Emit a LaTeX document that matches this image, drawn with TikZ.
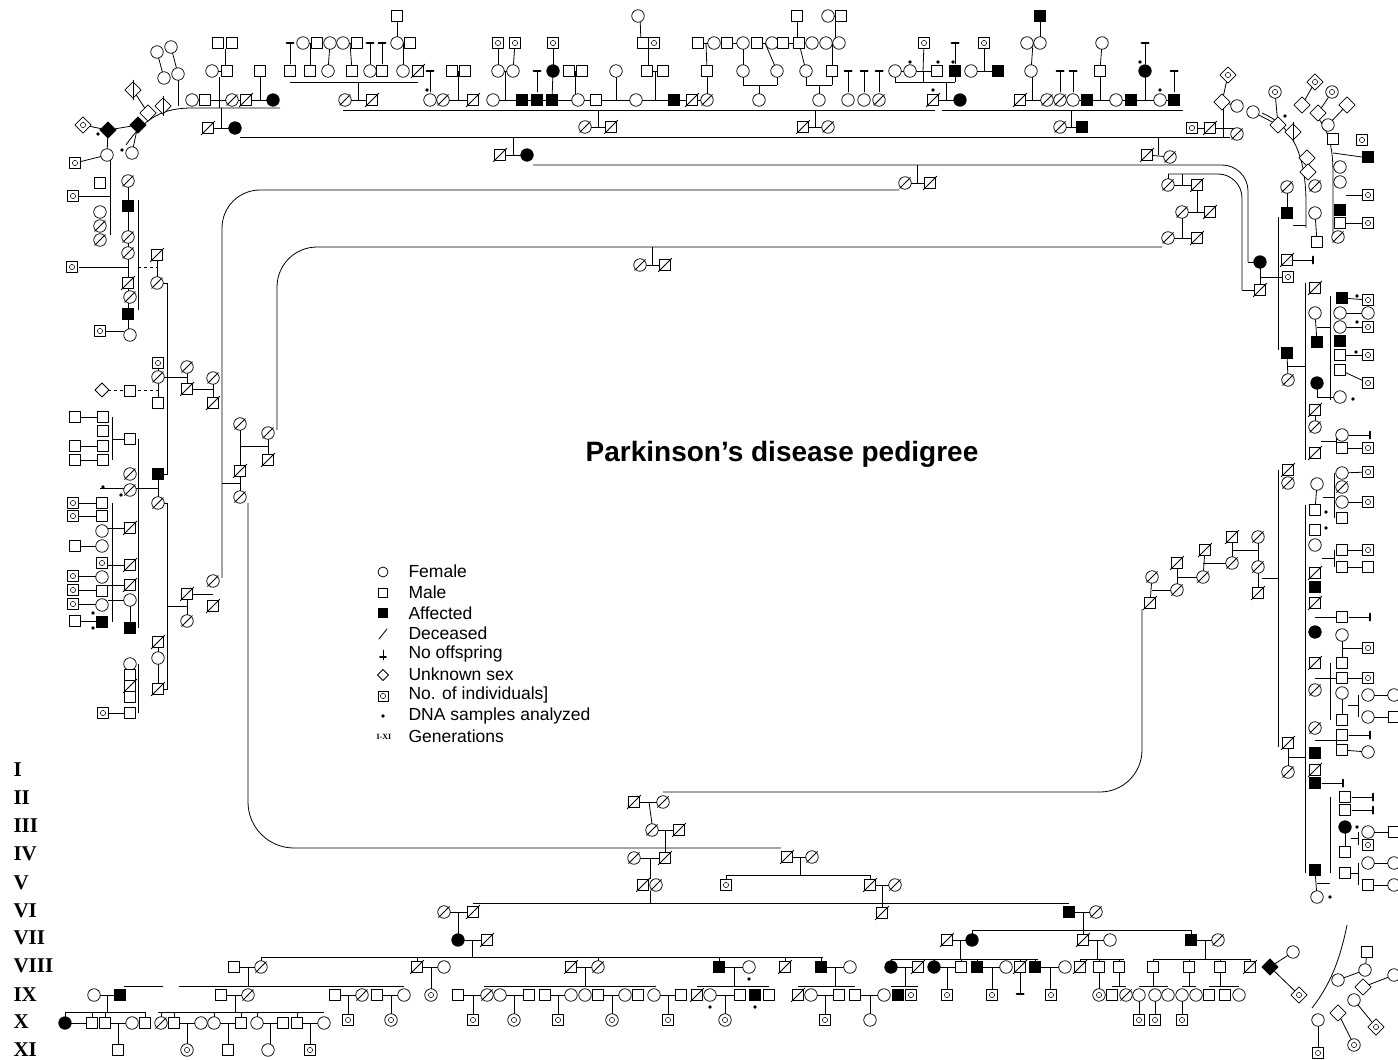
\documentclass[tikz,border=0pt]{standalone}
\usepackage{fontspec}
\setmainfont{Liberation Serif}
\setsansfont{Liberation Sans}
\usetikzlibrary{shapes.geometric,backgrounds}
\begin{document}
\begin{tikzpicture}[x=1pt,y=-1pt,line cap=round,line join=round]
\useasboundingbox (0,0) rectangle (1398,1060);
\tikzset{ind/.style={draw=black,line width=0.75pt,inner sep=0pt,outer sep=0pt,fill=white},
  F/.style={ind,circle,minimum size=12.5pt},
  M/.style={ind,rectangle,minimum size=11.5pt},
  U/.style={ind,diamond,minimum size=14pt},
  dead/.style={append after command={(\tikzlastnode.south west) edge[draw=black,line width=0.75pt,shorten <=-1.5pt,shorten >=-1.5pt] (\tikzlastnode.north east)}},
  numb/.style={path picture={\draw[line width=0.5pt] (path picture bounding box.center) circle[radius=2.6pt];}},
  FA/.style={F,fill=black},MA/.style={M,fill=black},
  FD/.style={F,dead},MD/.style={M,dead},
  FN/.style={F,numb},MN/.style={M,numb},
  MR/.style={M,rotate=45},MDR/.style={MD,rotate=45},MAR/.style={MA,rotate=45},MNR/.style={MN,rotate=45},
  kin/.style={draw=black,line width=0.8pt},
  noff/.pic={\draw[kin] (0,0) -- (0,21); \draw[line width=2pt] (-3.5,0) -- (3.5,0);},
  noffu/.pic={\draw[kin] (0,0) -- (0,-21); \draw[line width=2pt] (-3.5,0) -- (3.5,0);},
  noffh/.pic={\draw[kin] (0,0) -- (-21,0); \draw[line width=2pt] (0,-3.5) -- (0,3.5);},
  gen/.style={anchor=west,font=\bfseries\fontsize{21}{21}\selectfont},
  keytext/.style={anchor=west,font=\sffamily\fontsize{17.5}{18}\selectfont}}
\foreach \x/\y/\s in {157/52/F,171/47/F,164/78/F,178/74/F,133/90/MDR,148/113/MR,163/106/MDR,
  192/100/F,205/100/M,232/100/FD,246/100/MD,273/100/FA,218/43/M,232/43/M,212/71/F,227/71/M,260/71/M,
  208/128/MD,235/128/FA,83/125/MNR,108/130/MAR,138/125/MAR,132/153/F,107/155/F,75/163/MN,
  345/100/FD,372/100/MD,430/100/F,443/100/FD,473/100/MD,493/100/F,522/100/MA,537/100/MA,552/100/MA,578/100/F,596/100/M,636/100/F,674/100/MA,692/100/MD,707/100/FD,759/100/F,819/100/F,848/100/F,864/100/F,879/100/FD,933/100/MD,960/100/FA,1020/100/MD,1047/100/FD,1060/100/FD,1073/100/F,1087/100/MA,1116/100/F,1131/100/MA,1160/100/F,1174/100/MA,
  290/71/M,310/71/M,328/71/F,352/71/M,370/71/F,382/71/M,403/71/F,418/71/MD,452/71/M,465/71/M,498/71/F,513/71/F,553/71/FA,569/71/M,582/71/M,616/71/F,647/71/M,663/71/M,707/71/M,743/71/F,777/71/F,806/71/F,832/71/M,895/71/F,910/71/F,937/71/M,955/71/MA,971/71/F,998/71/MA,1031/71/F,1100/71/M,1145/71/FA,
  303/43/F,317/43/M,330/43/F,343/43/F,357/43/M,397/43/F,410/43/M,498/43/MN,515/43/MN,553/43/MN,643/43/M,654/43/MN,698/43/M,714/43/F,727/43/M,743/43/F,757/43/M,772/43/F,783/43/M,799/43/M,812/43/F,826/43/F,839/43/F,924/43/MN,984/43/MN,1027/43/F,1040/43/F,1102/43/F,
  397/16/M,638/16/F,797/16/M,828/16/F,841/16/M,1040/16/MA,
  585/127/FD,611/127/MD,803/127/MD,828/127/FD,1060/127/FD,1082/127/MA,500/155/MD,527/155/FA,1147/155/MD,1170/157/FD,905/183/FD,930/183/MD,
  1228/75/MNR,1222/102/MR,1237/106/F,1192/128/MN,1210/128/MD,1237/134/FD,
  1168/185/FD,1197/185/MD,1182/212/FD,1210/212/MD,1168/238/FD,1197/238/MD,640/265/FD,665/265/MD}
  \node[\s] (p\x-\y) at (\x,\y) {};
\foreach \x/\y/\s in {1253/112/F,1275/92/FN,1278/125/MR,1293/132/MDR,1302/105/MR,1315/82/MNR,1318/113/MR,1332/92/FN,1347/105/MR,1328/125/F,1333/139/M,1307/158/MR,1308/172/MR,1315/186/FD,1315/213/F,1317/242/M,1340/167/F,1340/182/F,1340/210/MA,1340/223/M,1338/237/FD,1362/140/MN,1368/157/MA,1368/195/MN,1368/223/MN,1287/187/FD,1287/213/MA,
  1260/262/FA,1260/290/MD,1287/260/MD,1288/277/MN,
  1315/288/MD,1342/298/MA,1368/300/MN,1315/313/F,1340/313/F,1368/313/F,1340/327/F,1368/327/MN,1317/342/MA,1340/341/MA,1340/355/M,1368/355/MN,1340/370/M,1368/383/MN,1340/397/F,
  1287/353/MA,1288/380/FD,1317/383/FA,1315/410/MD,1315/427/FD,1342/435/F,1342/448/M,1368/448/MN,1315/453/MD,
  1288/470/MD,1288/483/FD,1317/484/F,1342/473/F,1368/472/MN,1342/487/FD,1342/502/F,1368/502/MN,1342/518/M,1315/510/M,1315/530/M,1315/545/F,1342/550/M,1368/550/MN,1342/567/M,1368/567/M,
  1315/573/MD,1315/587/MA,1315/603/MD,1342/617/M,1315/632/FA,1342/635/F,1368/648/MN,1342/663/M,1315/663/MD,1342/678/M,1368/678/MN,1315/690/FD,1342/693/F,1342/720/M,1368/695/F,1368/717/F,1394/695/F,1394/717/M,
  1315/728/FD,1342/735/M,1315/753/MA,1342/750/M,1368/752/F,1315/770/MD,1315/783/MA,
  1345/797/M,1345/810/M,1345/827/FA,1368/832/F,1368/845/MN,1345/852/M,1368/863/F,1345/873/M,1368/885/M,1394/832/M,1394/863/F,1394/885/F,1315/870/MA,1317/897/F,
  1288/743/MD,1288/772/FD,
  1152/577/FD,1150/603/MD,1177/590/FD,1177/563/MD,1203/577/FD,1205/550/MD,1232/563/FD,1232/537/MD,1258/537/FD,1258/567/FD,1258/593/MD,
  1318/1020/F,1338/1013/MR,1354/1000/F,1363/987/MR,1365/970/F,1367/952/M,1338/980/F,1318/1053/MN,1354/1045/FN,1376/1027/MNR,1394/975/F}
  \node[\s] (p\x-\y) at (\x,\y) {};
\foreach \x/\y/\s in {100/183/M,73/196/MN,100/212/F,100/226/FD,100/240/FD,128/181/FD,128/206/MA,128/237/FD,128/253/FD,128/283/MD,130/297/FD,128/314/MA,130/335/F,72/267/MN,100/331/MN,157/255/MD,157/283/FD,
  158/363/MN,158/377/FD,158/403/M,102/390/U,130/391/M,187/367/FD,187/389/MD,213/378/FD,213/403/MD,
  240/424/FD,240/471/MD,240/497/FD,268/433/FD,268/460/MD,
  75/417/M,103/417/M,103/431/M,130/439/M,75/446/M,103/446/M,75/460/M,103/460/M,130/474/FD,130/490/FD,158/474/MA,158/503/FD,
  73/503/MN,102/503/M,73/516/MN,102/516/M,102/531/F,130/528/MD,75/546/M,102/546/F,102/563/MN,130/565/MD,73/576/MN,102/577/F,130/585/MD,73/590/MN,102/591/M,73/604/MN,102/605/F,75/621/M,102/622/MA,130/600/F,130/628/MA,
  187/594/MD,187/621/FD,213/581/FD,213/606/MD,
  158/642/MD,158/658/F,130/664/F,130/675/M,130/686/MD,130/697/M,158/689/MD,103/713/MN,130/713/M}
  \node[\s] (p\x-\y) at (\x,\y) {};
\foreach \x/\y/\s in {634/802/MD,663/802/FD,652/830/FD,679/830/MD,634/858/FD,665/858/MD,643/885/MD,656/885/FD,787/857/MD,812/857/FD,726/885/MN,870/885/MD,895/885/FD,882/913/MD,
  444/912/FD,473/912/MD,1069/912/MA,1096/912/FD,
  458/940/FA,487/940/MD,947/940/MD,972/940/FA,1083/940/MD,1110/940/F,1191/940/MA,1218/940/FD,
  234/967/M,261/967/FD,417/967/MD,444/967/F,571/967/MD,598/967/FD,719/967/MA,749/967/F,785/967/MD,821/967/MA,850/967/F,
  891/967/FA,918/967/MD,934/967/FA,961/967/M,977/967/MA,1006/967/F,1020/967/MD,1035/967/MA,1065/967/F,1080/967/MD,1099/967/M,1119/967/M,1153/967/M,1189/967/M,1220/967/M,1250/967/MD,1270/967/MAR,1293/952/F,
  94/995/F,120/995/MA,221/995/M,248/995/FD,335/995/M,362/995/FD,377/995/M,404/995/F,431/995/FN,458/995/M,487/995/FD,500/995/F,529/995/M,545/995/M,571/995/F,585/995/F,598/995/M,625/995/F,638/995/M,654/995/F,681/995/M,697/995/MD,710/995/F,740/995/M,755/995/MA,769/995/M,798/995/MD,811/995/F,839/995/M,855/995/M,884/995/F,898/995/MA,911/995/MN,947/995/MN,992/995/MN,1051/995/MN,1099/995/FN,1112/995/M,1126/995/FD,1139/995/F,1155/995/F,1168/995/F,1182/995/F,1196/995/F,1209/995/M,1225/995/M,1239/995/F,1299/995/MNR,
  65/1023/FA,92/1023/M,105/1023/M,132/1023/F,145/1023/M,161/1023/FD,174/1023/M,201/1023/F,214/1023/F,241/1023/M,257/1023/F,283/1023/M,297/1023/M,324/1023/F,348/1020/MN,391/1020/FN,473/1020/MN,514/1020/FN,558/1020/MN,612/1020/FN,668/1020/MN,725/1020/FN,825/1020/MN,870/1020/F,1139/1020/MN,1155/1020/MN,1182/1020/MN,
  118/1050/M,187/1050/FN,228/1050/M,268/1050/F,310/1050/MN}
  \node[\s] (p\x-\y) at (\x,\y) {};
\foreach \x/\y in {290/43,370/43,382/43,430/71,537/71,848/71,864/71,879/71,1060/71,1073/71,1174/71,955/43,1145/43}
  \pic at (\x,\y) {noff};
\pic at (1020,994) {noffu};
\foreach \x/\y in {1313/260,1370/435,1370/617,1370/735,1343/783,1373/797,1373/810}
  \pic at (\x,\y) {noffh};
\foreach \x/\y in {98/134,122/150,427/90,910/62,938/62,953/62,933/90,1140/62,1160/90,1285/116,103/487,121/495,93/613,93/628,1357/296,1357/322,1356/352,1353/399,1326/512,1326/528,1357/827,1330/897,749/979,710/1007,755/1007}
  \fill (\x,\y) circle (1.8);
\begin{scope}[on background layer]
\fill[white] (0,0) rectangle (1398,1060);
\draw[kin] (126,145) .. controls (146,116) and (165,108) .. (192,108) -- (280,108);
\draw[kin] (343,110) -- (935,110);
\draw[kin] (942,110) -- (1183,110);
\draw[kin] (240,137) -- (1230,137);
\draw[kin,rounded corners=26] (533,165) -- (1248,165) -- (1248,262);
\draw[kin] (1248,262) -- (p1260-262);
\draw[kin,rounded corners=24] (1168,174) -- (1242,174) -- (1242,290);
\draw[kin] (1242,290) -- (p1260-290);
\draw[kin,rounded corners=38] (899,190) -- (222,190) -- (222,578);
\draw[kin,rounded corners=40] (1162,247) -- (277,247) -- (277,430);
\draw[kin,rounded corners=46] (248,503) -- (248,848) -- (781,848);
\draw[kin,rounded corners=42] (1142,609) -- (1142,792) -- (663,792);
\draw[kin] (157,283) -- (167,283) -- (167,474) -- (158,474);
\draw[kin] (158,503) -- (167,503) -- (167,690);
\draw[kin,dashed] (138,267) -- (157,267);
\draw[kin,dashed] (102,390) -- (158,390);
\draw[kin] (1262,113) .. controls (1290,125) and (1305,150) .. (1306,200) -- (1306,228);
\draw[kin] (1318,118) .. controls (1330,133) and (1333,150) .. (1333,175) -- (1333,240);
\draw[kin] (1347,925) .. controls (1340,960) and (1330,985) .. (1312,1008);
\foreach \a/\b/\c/\d in {178/80/178/106,225/49/225/65,219/77/219/108,260/77/260/100,221/128/221/108,290/82/418/82,358/82/358/100,
  310/43/310/71,330/43/328/71,350/43/352/71,403/43/403/71,397/16/397/43,458/71/458/100,505/71/505/100,498/43/498/71,515/43/513/71,553/43/553/71,553/71/552/100,575/71/575/100,
  616/71/616/100,655/71/655/100,648/43/648/71,640/16/641/43,707/71/707/100,706/43/707/71,
  743/85/777/85,743/71/743/85,777/71/777/85,759/85/759/100,743/43/743/71,765/43/777/71,
  806/85/832/85,806/71/806/85,832/71/832/85,819/85/819/100,799/43/806/71,832/43/832/71,797/16/797/43,835/16/835/43,
  895/82/955/82,895/71/895/82,955/71/955/82,923/71/923/82,946/82/946/100,924/43/923/71,984/43/984/71,
  1032/77/1032/100,1033/43/1031/71,1040/16/1040/43,1100/71/1100/100,1102/43/1100/71,1145/71/1145/100,
  192/100/273/100,345/100/372/100,430/100/473/100,493/100/707/100,933/100/960/100,1020/100/1174/100,
  598/127/598/110,815/127/815/110,1071/127/1071/110,513/155/513/137,1158/155/1158/137,917/183/917/165,
  1182/185/1182/174,1197/185/1197/212,1182/212/1182/238,1223/108/1223/137,1198/128/1237/128,1168/174/1168/185,652/265/652/247,
  1333/153/1362/157,1346/195/1362/195,1346/223/1362/223,1293/225/1306/225,1278/217/1278/350,1260/277/1282/277,
  1305/283/1305/460,1330/296/1330/400,1317/327/1330/327,1288/366/1305/366,1317/383/1317/397,1317/397/1334/397,1321/441/1336/441,1336/435/1336/448,
  1278/470/1278/747,1305/505/1305/873,1262/578/1278/578,1152/590/1177/590,1177/577/1203/577,1203/563/1232/563,1232/550/1258/550,1258/537/1258/593,
  1323/497/1334/497,1334/473/1334/518,1322/558/1334/558,1334/550/1334/567,1315/617/1336/617,1342/648/1362/648,1315/678/1336/678,1330/663/1330/720,1342/693/1342/720,1348/705/1358/705,1358/695/1358/717,
  1315/740/1336/740,1336/735/1336/750,1330/797/1330/873,1351/838/1358/838,1358/832/1358/845,1345/827/1345/852,1351/873/1358/873,1358/863/1358/885,1317/883/1330/883,1288/757/1305/757,
  649/802/652/824,665/830/665/852,650/858/650/879,650/891/650/903,800/857/800/875,726/875/870/875,726/875/726/879,870/875/870/879,882/885/882/907,
  473/903/1069/903,458/912/458/934,1083/912/1083/930,972/930/1191/930,972/930/972/934,1083/930/1083/934,1191/930/1191/934,
  472/940/472/957,261/957/823/957,960/940/960/959,891/959/1038/959,1097/940/1097/959,1080/959/1124/959,1205/940/1205/959,1153/959/1250/959,
  124/986/163/986,179/986/404/986,248/967/248/986,431/967/431/989,484/986/656/986,585/967/585/986,734/967/734/986,697/986/769/986,835/967/835/986,798/986/855/986,
  905/967/905/986,891/986/918/986,947/967/947/989,992/967/992/989,1050/967/1050/989,1099/967/1099/989,1119/967/1119/986,1112/986/1126/986,1153/967/1153/986,1139/986/1168/986,1189/967/1189/986,1182/986/1196/986,1220/967/1220/986,1209/986/1239/986,
  1139/995/1139/1014,1155/995/1155/1014,1182/995/1182/1014,
  107/995/107/1012,65/1012/145/1012,235/995/235/1012,158/1012/324/1012,
  118/1023/118/1044,187/1023/187/1044,228/1023/228/1044,270/1023/270/1044,310/1023/310/1044,
  348/995/348/1014,391/995/391/1014,473/995/473/1014,514/995/514/1014,558/995/558/1014,612/995/612/1014,668/995/668/1014,725/995/725/1014,825/995/825/1014,870/995/870/1014,
  110/160/110/235,79/196/110/196,128/181/128/335,138/200/138/310,79/267/128/267,106/331/124/331,157/255/157/283,158/363/158/403,158/377/187/377,187/367/187/389,187/389/213/389,213/378/213/403,
  240/424/240/497,240/446/268/446,268/433/268/460,222/483/240/483,81/417/97/417,81/446/97/446,81/460/97/460,112/417/112/460,112/439/124/439,138/439/138/628,100/488/158/488,
  79/503/96/503,79/516/96/516,112/503/112/622,108/528/124/528,81/546/96/546,108/565/124/565,79/576/96/576,108/585/124/585,79/590/96/590,79/604/96/604,81/621/96/621,108/600/124/600,130/600/130/628,
  167/606/187/606,187/594/187/621,193/594/213/594,158/642/158/689,138/664/138/713,109/713/124/713,158/689/167/689,158/474/158/503}
  \draw[kin] (\a,\b) -- (\c,\d);
\foreach \x in {261,417,598,719,785,821}
  \draw[kin] (\x,957) -- (\x,963);
\foreach \x in {891,934,961,977,1020,1035,1080,1099,1119,1153,1189,1220,1250}
  \draw[kin] (\x,959) -- (\x,963);
\foreach \x in {65,92,105,145,161,174,214,241,257,297}
  \draw[kin] (\x,1012) -- (\x,1018);
\foreach \a/\b in {303-43/317-43,343-43/357-43,397-43/410-43,452-71/465-71,498-71/513-71,569-71/582-71,647-71/663-71,643-43/654-43,698-43/714-43,727-43/743-43,757-43/772-43,783-43/799-43,826-43/839-43,828-16/841-16,895-71/910-71,910-71/937-71,971-71/998-71,1027-43/1040-43,212-71/227-71,
  585-127/611-127,803-127/828-127,1060-127/1082-127,208-128/235-128,500-155/527-155,1147-155/1170-157,905-183/930-183,1168-185/1197-185,1182-212/1210-212,1168-238/1197-238,640-265/665-265,1192-128/1210-128,1228-75/1222-102,1222-102/1237-106,
  1275-92/1278-125,1302-105/1315-82,1318-113/1332-92,1328-125/1347-105,1253-112/1278-125,1287-187/1287-213,1315-213/1317-242,
  1260-262/1260-290,1342-298/1368-300,1340-313/1368-313,1340-327/1368-327,1340-355/1368-355,1340-370/1368-383,1315-313/1317-342,1287-353/1288-380,1315-410/1315-427,1342-448/1368-448,1317-484/1315-510,1342-473/1368-472,1342-502/1368-502,1342-550/1368-550,1342-567/1368-567,1342-635/1342-663,1342-678/1368-678,1368-695/1394-695,1368-717/1394-717,1342-750/1368-752,1368-832/1394-832,1368-863/1394-863,1368-885/1394-885,1288-743/1288-772,1152-577/1150-603,1177-563/1177-590,1205-550/1203-577,1232-537/1232-563,1315-870/1317-897,
  1318-1020/1318-1053,1338-1013/1354-1045,1354-1000/1376-1027,1363-987/1394-975,1338-980/1365-970,1365-970/1367-952,1270-967/1293-952,1270-967/1299-995,
  634-802/663-802,652-830/679-830,634-858/665-858,787-857/812-857,870-885/895-885,444-912/473-912,1069-912/1096-912,458-940/487-940,947-940/972-940,1083-940/1110-940,1191-940/1218-940,
  234-967/261-967,417-967/444-967,571-967/598-967,719-967/749-967,821-967/850-967,891-967/918-967,934-967/961-967,977-967/1006-967,1035-967/1065-967,
  94-995/120-995,221-995/248-995,335-995/362-995,377-995/404-995,458-995/487-995,500-995/529-995,545-995/571-995,598-995/625-995,654-995/681-995,710-995/740-995,811-995/839-995,855-995/884-995,
  65-1023/92-1023,105-1023/132-1023,174-1023/201-1023,214-1023/241-1023,257-1023/283-1023,297-1023/324-1023,
  157-52/164-78,171-47/178-74,133-90/148-113,83-125/108-130,108-130/138-125,138-125/132-153,107-155/75-163,107-155/108-130}
  \draw[kin] (p\a) -- (p\b);
\end{scope}
\node[font=\sffamily\bfseries\fontsize{28}{30}\selectfont] (title) at (782,454) {Parkinson’s disease pedigree};
\node[F,minimum size=10pt] (ks1) at (383,572) {};
\node[M,minimum size=9.5pt] (ks2) at (383,593) {};
\node[MA,minimum size=9.5pt] (ks3) at (383,613) {};
\draw[kin] (379,639) -- (387,629);
\draw[kin] (383,650) -- (383,660);
\draw[line width=1.6pt] (380,657) -- (386,657);
\node[U,minimum size=11pt] (ks6) at (383,675) {};
\node[MN,minimum size=10pt] (ks7) at (383,696) {};
\fill (383,716) circle (1.8);
\node[font=\bfseries\fontsize{8}{8}\selectfont] (ks9) at (384,737) {I-XI};
\foreach \t [count=\i] in {Female,Male,Affected,Deceased,No offspring,Unknown sex,No. of individuals],DNA samples analyzed,Generations}
  \node[keytext] (key\i) at (405,{551+20.6*\i}) {\t};
\foreach \g/\y in {I/770,II/798,III/826,IV/854,V/883,VI/911,VII/938,VIII/966,IX/995,X/1022,XI/1050}
  \node[gen] (gen\g) at (10,\y) {\g};
\end{tikzpicture}
\end{document}
